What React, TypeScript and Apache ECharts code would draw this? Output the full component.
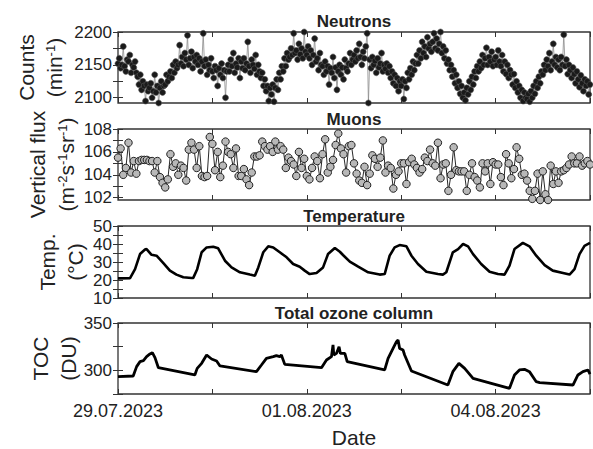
import React, { useEffect, useRef } from 'react';
import * as echarts from 'echarts';

// ---- x axis (hours since 29.07.2023 00:00) ----
const X_MAX_H = 180;
const X_TICK_HOURS = [0, 36, 72, 108, 144, 180];
const X_LABEL_HOURS = [0, 72, 144];
const X_TICK_LABELS = ['29.07.2023', '01.08.2023', '04.08.2023'];

// ---- Neutrons: counts per minute, every 30 min ----
const NEUTRON_STEP_H = 0.5;
const NEUTRON_VALUES = [
  2152, 2160, 2145, 2150, 2178, 2148, 2140, 2158, 2155, 2165, 2138, 2150,
  2146, 2155, 2138, 2132, 2120, 2135, 2112, 2125, 2118, 2095, 2120, 2110,
  2115, 2122, 2100, 2110, 2135, 2108, 2118, 2092, 2115, 2125, 2108, 2118,
  2120, 2135, 2125, 2132, 2140, 2130, 2150, 2138, 2155, 2145, 2150, 2180,
  2152, 2162, 2148, 2168, 2158, 2195, 2150, 2160, 2170, 2145, 2162, 2155,
  2165, 2150, 2160, 2140, 2155, 2198, 2148, 2158, 2135, 2150, 2142, 2160,
  2140, 2130, 2148, 2142, 2118, 2145, 2135, 2152, 2130, 2142, 2100, 2140,
  2150, 2140, 2158, 2148, 2168, 2138, 2152, 2146, 2160, 2130, 2155, 2145,
  2160, 2142, 2152, 2185, 2148, 2138, 2158, 2150, 2144, 2165, 2135, 2150,
  2140, 2130, 2138, 2118, 2128, 2110, 2118, 2095, 2115, 2105, 2120, 2094,
  2115, 2128, 2112, 2138, 2128, 2148, 2140, 2160, 2148, 2168, 2158, 2162,
  2175, 2165, 2198, 2168, 2172, 2158, 2182, 2166, 2175, 2160, 2200, 2170,
  2165, 2178, 2160, 2172, 2150, 2165, 2190, 2155, 2160, 2142, 2168, 2150,
  2148, 2135, 2155, 2140, 2148, 2120, 2145, 2138, 2162, 2130, 2146, 2112,
  2140, 2150, 2135, 2146, 2128, 2158, 2145, 2140, 2152, 2168, 2150, 2158,
  2165, 2155, 2172, 2160, 2182, 2162, 2150, 2170, 2160, 2178, 2198, 2092,
  2158, 2145, 2162, 2150, 2156, 2138, 2160, 2146, 2152, 2168, 2140, 2150,
  2144, 2152, 2138, 2148, 2130, 2140, 2122, 2135, 2118, 2130, 2110, 2125,
  2118, 2128, 2098, 2125, 2115, 2138, 2128, 2145, 2135, 2155, 2142, 2152,
  2165, 2152, 2172, 2160, 2185, 2168, 2178, 2162, 2192, 2175, 2182, 2170,
  2185, 2198, 2175, 2190, 2172, 2182, 2200, 2168, 2178, 2160, 2172, 2152,
  2158, 2142, 2150, 2132, 2142, 2122, 2135, 2115, 2125, 2106, 2118, 2100,
  2108, 2096, 2115, 2105, 2125, 2112, 2132, 2120, 2140, 2130, 2148, 2140,
  2155, 2145, 2165, 2150, 2160, 2176, 2150, 2162, 2155, 2170, 2148, 2158,
  2162, 2150, 2172, 2155, 2148, 2165, 2140, 2155, 2136, 2150, 2130, 2142,
  2135, 2120, 2136, 2115, 2125, 2108, 2118, 2100, 2112, 2095, 2108, 2100,
  2098, 2106, 2094, 2110, 2100, 2118, 2106, 2125, 2115, 2132, 2122, 2140,
  2135, 2150, 2142, 2158, 2148, 2168, 2142, 2155, 2182, 2150, 2162, 2146,
  2158, 2142, 2162, 2150, 2196, 2148, 2158, 2136, 2150, 2142, 2130, 2146,
  2136, 2122, 2140, 2128, 2116, 2134, 2122, 2110, 2128, 2118, 2125, 2105, 2120,
];

// ---- Muons: vertical flux, hourly ----
const MUON_STEP_H = 1;
const MUON_VALUES = [
  105.5, 106.3, 104.0, 104.6, 106.8, 104.2, 105.2, 104.1, 105.2, 105.3,
  105.3, 105.3, 105.2, 105.2, 104.2, 105.2, 103.8, 103.3, 102.9, 103.6,
  105.8, 104.7, 105.0, 104.0, 104.8, 104.6, 103.5, 106.2, 106.8, 106.2,
  104.6, 106.5, 103.9, 103.8, 103.9, 107.3, 106.7, 104.4, 106.0, 103.8,
  104.8, 106.9, 106.0, 105.8, 104.6, 106.3, 103.9, 103.9, 104.5, 103.6,
  103.1, 104.2, 105.6, 105.6, 105.7, 106.9, 106.5, 106.2, 106.5, 106.0,
  106.9, 106.2, 106.5, 106.2, 104.6, 105.5, 105.2, 104.9, 103.9, 106.0,
  104.6, 105.4, 103.9, 103.6, 104.6, 105.6, 105.2, 103.7, 105.8, 107.1,
  104.2, 104.7, 105.3, 106.6, 107.6, 106.3, 105.8, 104.2, 106.5, 106.6,
  105.0, 104.1, 103.5, 103.3, 104.7, 103.1, 104.1, 105.7, 105.4, 104.7,
  105.5, 107.0, 104.2, 104.8, 104.6, 102.8, 104.0, 104.3, 105.0, 105.0,
  103.2, 105.1, 105.4, 104.9, 104.6, 104.2, 104.5, 105.5, 105.2, 106.2,
  105.0, 104.8, 106.8, 103.7, 104.9, 105.0, 102.6, 104.0, 106.4, 104.4,
  104.3, 104.3, 104.3, 102.6, 104.0, 105.0, 103.8, 103.5, 102.9, 105.0,
  104.3, 105.0, 103.2, 105.1, 104.9, 104.9, 103.8, 103.1, 105.8, 105.0,
  103.7, 104.5, 106.4, 105.4, 104.0, 104.1, 103.5, 102.6, 101.9, 102.6,
  104.1, 101.8, 104.3, 102.3, 101.8, 104.8, 103.2, 104.3, 103.3, 104.3,
  104.4, 104.6, 104.9, 105.6, 105.0, 105.0, 105.6, 104.8, 105.0, 105.2,
  104.9,
];

// ---- Temperature (°C) ----
const TEMP_HOURS = [
  0, 4.6, 6.5, 8.4, 10.3, 10.9, 12.8, 14.7, 17.3, 19.8, 22.3, 24.9, 28.1, 28.7,
  30.2, 31.9, 33.8, 36.3, 38.2, 40.8, 43.3, 46.5, 50.3, 52.2, 53.5, 55.4, 57.3,
  59.2, 61.7, 64.3, 66.8, 69.3, 71.2, 73.1, 75.7, 78.2, 80.1, 82.7, 84.6, 85.8,
  88.4, 91.6, 95.4, 99.8, 101.7, 103.6, 105.5, 107.4, 110.0, 111.9, 114.4, 117.6,
  122.0, 123.9, 125.2, 127.7, 129.7, 131.6, 133.5, 135.4, 138.5, 141.7, 144.9,
  147.4, 149.3, 151.2, 154.4, 156.9, 159.5, 162.7, 165.8, 169.7, 172.2, 174.1,
  176.0, 177.9, 180,
];
const TEMP_VALUES = [
  20.9, 21.0, 26.0, 34.4, 36.9, 37.2, 34.0, 33.5, 29.4, 25.2, 23.0, 21.5, 21.1, 21.2,
  26.0, 35.4, 38.1, 38.5, 37.6, 30.7, 27.0, 24.3, 23.0, 22.4, 27.0, 35.4, 38.7,
  38.1, 35.4, 32.6, 28.9, 27.4, 25.2, 23.3, 23.9, 27.0, 34.4, 37.8, 35.7, 33.9,
  30.2, 27.4, 24.3, 23.0, 23.3, 33.5, 38.1, 39.4, 38.7, 33.5, 28.9, 24.6,
  23.3, 23.0, 24.3, 35.4, 37.2, 40.0, 38.7, 34.4, 28.9, 24.6, 23.3,
  23.0, 28.0, 37.2, 40.6, 38.7, 33.5, 28.3, 25.2, 23.9, 23.0, 26.0,
  34.4, 39.0, 40.6,
];

// ---- Total ozone column (DU) ----
const TOC_HOURS = [
  0, 5.8, 7.1, 8.4, 9.7, 10.9, 12.2, 13.1, 14.1, 15.4,
  29.3, 30.2, 31.9, 33.8, 35.7, 37.6, 38.9,
  52.8, 54.7, 56.6, 59.2, 60.4, 61.7, 62.3, 63.6,
  77.6, 79.5, 81.4, 82.0, 82.3, 83.3, 84.3, 84.8, 86.5, 87.4,
  101.7, 103.0, 104.9, 106.2, 106.8, 107.4, 108.7, 109.3, 111.9,
  125.8, 127.7, 130.0, 132.2, 135.4,
  149.3, 151.2, 153.1, 155.0, 156.9, 159.5, 160.8,
  173.5, 175.4, 177.3, 179.2, 180,
];
const TOC_VALUES = [
  293.3, 294.0, 303.9, 309.2, 310.2, 314.4, 317.3, 318.7, 313.4, 302.8,
  295.1, 302.1, 307.4, 316.2, 312.0, 309.9, 304.6,
  298.6, 305.6, 312.7, 314.4, 315.5, 314.4, 316.2, 306.3,
  302.8, 310.9, 314.4, 326.8, 316.2, 317.9, 325.0, 317.9, 317.9, 309.2,
  300.4, 312.7, 323.2, 330.3, 332.0, 323.2, 321.5, 316.2, 299.3,
  284.5, 298.6, 307.4, 302.1, 291.5,
  281.0, 295.1, 300.4, 301.1, 298.6, 288.0, 287.0,
  284.5, 295.1, 298.6, 300.4, 296.0,
];

const PANEL_TITLES = ['Neutrons', 'Muons', 'Temperature', 'Total ozone column'];

const FONT = '"Liberation Sans", Arial, Helvetica, sans-serif';
const INK = '#222';

const GRID_LEFT = 118;
const GRID_WIDTH = 472;
const GRIDS = [
  { top: 32, height: 71 },
  { top: 129, height: 71 },
  { top: 226, height: 72 },
  { top: 323, height: 71 },
];

const Y_SPECS = [
  { min: 2092, max: 2200, ticks: [2100, 2125, 2150, 2175, 2200], labels: [2100, 2150, 2200] },
  { min: 101.8, max: 108, ticks: [102, 103, 104, 105, 106, 107, 108], labels: [102, 104, 106, 108] },
  { min: 10, max: 50, ticks: [10, 15, 20, 25, 30, 35, 40, 45, 50], labels: [10, 20, 30, 40, 50] },
  { min: 275, max: 350, ticks: [275, 300, 325, 350], labels: [300, 350] },
];

export default function App() {
  const ref = useRef<HTMLDivElement>(null);

  useEffect(() => {
    document.body.style.margin = '0';
    if (!ref.current) return;
    const chart = echarts.init(ref.current, undefined, { renderer: 'svg' });

    const grids = GRIDS.map((g) => ({
      left: GRID_LEFT,
      width: GRID_WIDTH,
      top: g.top,
      height: g.height,
      show: true,
      borderColor: '#333',
      borderWidth: 1.3,
      backgroundColor: 'transparent',
    }));

    const xAxes: any[] = [];
    const yAxes: any[] = [];
    GRIDS.forEach((_, gi) => {
      const isLast = gi === GRIDS.length - 1;
      ['bottom', 'top'].forEach((pos) => {
        xAxes.push({
          type: 'value',
          gridIndex: gi,
          position: pos,
          min: 0,
          max: X_MAX_H,
          axisLine: { show: false },
          splitLine: { show: false },
          axisTick: {
            show: true,
            inside: true,
            length: 5,
            customValues: X_TICK_HOURS,
            lineStyle: { color: '#333', width: 1 },
          },
          axisLabel: {
            show: isLast && pos === 'bottom',
            customValues: X_LABEL_HOURS,
            formatter: (v: number) => {
              const i = X_LABEL_HOURS.indexOf(v);
              return i >= 0 ? X_TICK_LABELS[i] : '';
            },
            fontFamily: FONT,
            fontSize: 18,
            color: INK,
            margin: 8,
          },
        });
      });
      const ys = Y_SPECS[gi];
      ['left', 'right'].forEach((pos) => {
        yAxes.push({
          type: 'value',
          gridIndex: gi,
          position: pos,
          min: ys.min,
          max: ys.max,
          axisLine: { show: false },
          splitLine: { show: false },
          axisTick: {
            show: true,
            inside: true,
            length: 5,
            customValues: ys.ticks,
            lineStyle: { color: '#333', width: 1 },
          },
          axisLabel: {
            show: pos === 'left',
            customValues: ys.labels,
            formatter: (v: number) => String(v),
            fontFamily: FONT,
            fontSize: 17,
            lineHeight: 16,
            color: INK,
            margin: 6,
          },
        });
      });
    });

    const series: any[] = [
      {
        type: 'line',
        xAxisIndex: 0,
        yAxisIndex: 0,
        data: NEUTRON_VALUES.map((v, i) => [i * NEUTRON_STEP_H, v]),
        symbol: 'circle',
        symbolSize: 6,
        showSymbol: true,
        itemStyle: { color: '#1a1a1a', borderColor: '#555', borderWidth: 0.6 },
        lineStyle: { color: '#8c8c8c', width: 0.8 },
        silent: true,
      },
      {
        type: 'line',
        xAxisIndex: 2,
        yAxisIndex: 2,
        data: MUON_VALUES.map((v, i) => [i * MUON_STEP_H, v]),
        symbol: 'circle',
        symbolSize: 7.5,
        showSymbol: true,
        itemStyle: { color: '#b8b8b8', borderColor: '#222', borderWidth: 1 },
        lineStyle: { color: '#111', width: 0.9 },
        silent: true,
      },
      {
        type: 'line',
        xAxisIndex: 4,
        yAxisIndex: 4,
        data: TEMP_HOURS.map((h, i) => [h, TEMP_VALUES[i]]),
        showSymbol: false,
        lineStyle: { color: '#000', width: 2.6 },
        silent: true,
      },
      {
        type: 'line',
        xAxisIndex: 6,
        yAxisIndex: 6,
        data: TOC_HOURS.map((h, i) => [h, TOC_VALUES[i]]),
        showSymbol: false,
        lineStyle: { color: '#000', width: 2.8 },
        silent: true,
      },
    ];

    const cx = GRID_LEFT + GRID_WIDTH / 2;
    const titleOffsets = [11, 10, 10, 10];
    const titles = PANEL_TITLES.map((t, i) => ({
      type: 'text',
      x: cx,
      y: GRIDS[i].top - titleOffsets[i],
      style: {
        text: t,
        fontFamily: FONT,
        fontSize: 17,
        fontWeight: 'bold',
        fill: INK,
        align: 'center',
        verticalAlign: 'middle',
      },
    }));

    const rich = {
      a: { fontFamily: FONT, fontSize: 21, color: INK },
      b: { fontFamily: FONT, fontSize: 13, color: INK, verticalAlign: 'top' },
    };
    const nameText = (x: number, y: number, text: string) => ({
      type: 'text',
      x,
      y,
      rotation: Math.PI / 2,
      style: {
        text,
        rich,
        fontFamily: FONT,
        fontSize: 21,
        fill: INK,
        align: 'center',
        verticalAlign: 'middle',
      },
    });
    const centerY = (i: number) => GRIDS[i].top + GRIDS[i].height / 2;

    const names = [
      nameText(26, centerY(0), '{a|Counts}'),
      nameText(54, centerY(0), '{a|(min}{b|-1}{a|)}'),
      nameText(37, centerY(1), '{a|Vertical flux}'),
      nameText(66, centerY(1), '{a|(m}{b|-2}{a|s}{b|-1}{a|sr}{b|-1}{a|)}'),
      nameText(47, centerY(2), '{a|Temp.}'),
      nameText(75, centerY(2), '{a|(°C)}'),
      nameText(40, centerY(3), '{a|TOC}'),
      nameText(68, centerY(3), '{a|(DU)}'),
    ];

    const dateLabel = {
      type: 'text',
      x: cx,
      y: 437,
      style: {
        text: 'Date',
        fontFamily: FONT,
        fontSize: 21,
        lineHeight: 22,
        fill: INK,
        align: 'center',
        verticalAlign: 'middle',
      },
    };

    chart.setOption({
      animation: false,
      backgroundColor: '#fff',
      grid: grids,
      xAxis: xAxes,
      yAxis: yAxes,
      series,
      graphic: [...titles, ...names, dateLabel],
    });

    return () => chart.dispose();
  }, []);

  return <div ref={ref} style={{ width: 593, height: 449 }} />;
}
